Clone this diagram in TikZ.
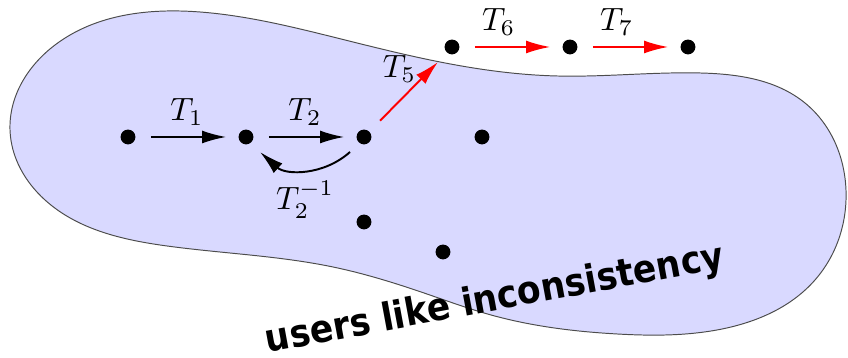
\documentclass[tikz,border=0pt]{standalone}
\usepackage{fontspec}
\newfontfamily\mottofont[FakeStretch=0.9]{DejaVu Sans}
\usetikzlibrary{arrows.meta, hobby}

\begin{document}
\begin{tikzpicture}[x=0.31pt, y=-0.31pt,
  dot/.style={circle, fill=black, inner sep=0pt, minimum size=4.6pt},
  trans/.style={semithick, -{Latex[length=7.5pt,width=4pt]}, shorten <=4.6pt, shorten >=3.6pt},
]
\useasboundingbox (0,0) rectangle (848,358);
% the set of states
\filldraw[fill=blue!15, draw=black!70, line width=0.3pt, use Hobby shortcut, closed=true]
  (200,12) .. (333,37) .. (440,62) .. (557,76) .. (700,73) .. (805,103) .. (846,190)
  .. (815,280) .. (717,330) .. (617,334) .. (491,315) .. (424,293) .. (333,267)
  .. (167,246) .. (45,200) .. (10,130) .. (55,45);
% states
\node[dot] (p1) at (128,137) {};
\node[dot] (p2) at (246,137) {};
\node[dot] (p3) at (364,137) {};
\node[dot] (p4) at (482,137) {};
\node[dot] (p5) at (364,222) {};
\node[dot] (p6) at (443,252) {};
\node[dot] (q1) at (452,47) {};
\node[dot] (q2) at (570,47) {};
\node[dot] (q3) at (688,47) {};
\coordinate (out) at (438,62);
% transitions
\draw[trans] (p1) -- node[above] {$T_1$} (p2);
\draw[trans] (p2) -- node[above] {$T_2$} (p3);
\draw[trans, shorten <=0pt, shorten >=0pt] ([shift={(-14,15)}]p3.center) to[bend left=42] node[below] {$T_2^{-1}$} ([shift={(14,15)}]p2.center);
\draw[trans, red, shorten >=0pt] (p3) -- node[pos=0.9, left, xshift=-1pt, black] {$T_5$} (out);
\draw[trans, red] (q1) -- node[pos=0.38, above, black] {$T_6$} (q2);
\draw[trans, red] (q2) -- node[pos=0.38, above, black] {$T_7$} (q3);
% caption
\node[rotate=10.5, text depth=0pt, inner sep=1pt, font=\mottofont\bfseries\fontsize{11.9}{13}\selectfont] (motto) at (494,296) {users like inconsistency};
\end{tikzpicture}
\end{document}
